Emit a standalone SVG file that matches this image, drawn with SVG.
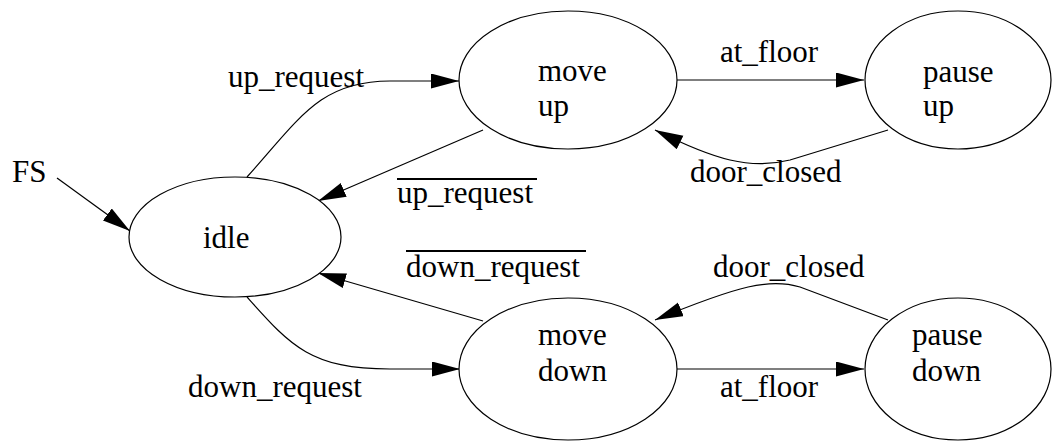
<svg xmlns="http://www.w3.org/2000/svg" width="1057" height="441" viewBox="0 0 1057 441">
<style>
text{font-family:"Liberation Serif","Times New Roman",serif;font-size:31px;fill:#000}
.node ellipse{fill:#fff;stroke:#000;stroke-width:1.2}
.edge{fill:none;stroke:#000;stroke-width:1.2}
.bar{stroke:#000;stroke-width:2}
</style>
<defs>
<marker id="ah" markerUnits="userSpaceOnUse" markerWidth="30" markerHeight="16" refX="28" refY="7.5" orient="auto" viewBox="0 0 30 16">
<path d="M0,0 L28,7.5 L0,15 z" fill="#000"/>
</marker>
</defs>
<rect width="1057" height="441" fill="#fff"/>
<g id="connectors">
<path class="edge" d="M57,178 L130,231" marker-end="url(#ah)"/>
<path class="edge" d="M247,177 C300,118 320,81 390,81 L459,81" marker-end="url(#ah)"/>
<path class="edge" d="M483,130 L318,201" marker-end="url(#ah)"/>
<path class="edge" d="M677,80 L864,80" marker-end="url(#ah)"/>
<path class="edge" d="M888,130 L790,160 C750,170 715,160 655,130" marker-end="url(#ah)"/>
<path class="edge" d="M247,297 C290,345 310,369 390,369 L460,369" marker-end="url(#ah)"/>
<path class="edge" d="M483,321 L318,273" marker-end="url(#ah)"/>
<path class="edge" d="M888,320 L800,287 C770,278 740,285 655,320" marker-end="url(#ah)"/>
<path class="edge" d="M677,369 L864,369" marker-end="url(#ah)"/>
</g>
<g id="labels">
<text x="12" y="182">FS</text>
<text x="228" y="87">up_request</text>
<text x="720" y="62">at_floor</text>
<text x="690" y="182">door_closed</text>
<line class="bar" x1="397" y1="179" x2="537" y2="179"/>
<text x="397" y="203">up_request</text>
<line class="bar" x1="406" y1="251" x2="586" y2="251"/>
<text x="406" y="277">down_request</text>
<text x="713" y="277">door_closed</text>
<text x="188" y="397">down_request</text>
<text x="720" y="397">at_floor</text>
</g>
<g id="idle" class="node">
<ellipse cx="235" cy="237" rx="106" ry="60"/>
<text x="203" y="248">idle</text>
</g>
<g id="move_up" class="node">
<ellipse cx="568" cy="80" rx="109" ry="69"/>
<text x="538" y="81">move</text>
<text x="538" y="116">up</text>
</g>
<g id="pause_up" class="node">
<ellipse cx="958" cy="80" rx="93" ry="69"/>
<text x="923" y="82">pause</text>
<text x="923" y="116">up</text>
</g>
<g id="move_down" class="node">
<ellipse cx="568" cy="369" rx="109" ry="71"/>
<text x="538" y="345">move</text>
<text x="538" y="381">down</text>
</g>
<g id="pause_down" class="node">
<ellipse cx="958" cy="369" rx="93" ry="71"/>
<text x="912" y="345">pause</text>
<text x="912" y="381">down</text>
</g>
</svg>
